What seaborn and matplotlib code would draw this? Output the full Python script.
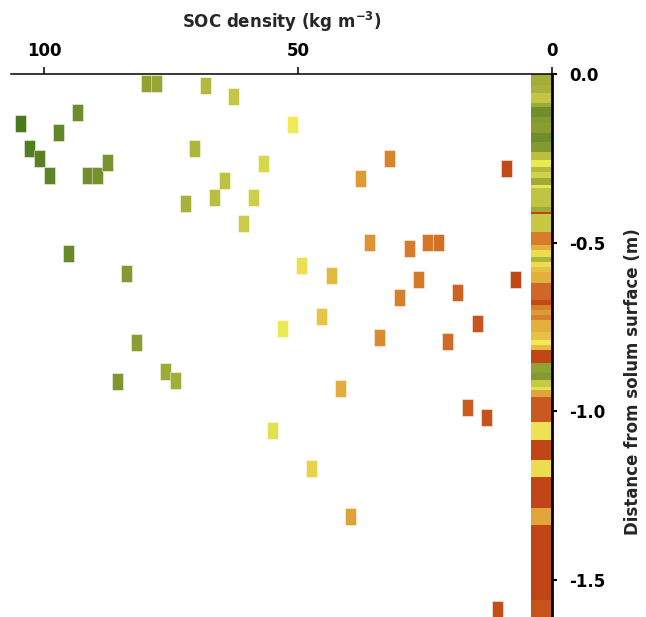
import numpy as np
import pandas as pd
import matplotlib
matplotlib.use("Agg")
import matplotlib.pyplot as plt
from matplotlib.colors import LinearSegmentedColormap
from matplotlib.path import Path
import seaborn as sns

sns.set_style("white")
plt.rcParams["font.family"] = ["DejaVu Sans"]
plt.rcParams["font.weight"] = "bold"
plt.rcParams["axes.unicode_minus"] = False
plt.rcParams["mathtext.fontset"] = "dejavusans"
plt.rcParams["mathtext.default"] = "bf"

# ---- Data: SOC density (kg m-3) of individual samples and their depth (m, negative = below surface)
soc = [79.9, 77.9, 68.3, 62.7, 93.4, 104.8, 97.2, 51.2, 70.4, 102.9,
       101.0, 99.1, 91.5, 89.5, 87.6, 56.9, 64.6, 66.5, 58.8, 72.3,
       60.8, 95.3, 83.8, 49.3, 43.5, 45.4, 53.1, 81.9, 76.1, 74.1,
       85.6, 32.0, 37.8, 9.0, 35.9, 28.1, 24.5, 22.4, 26.3, 7.1,
       18.6, 30.1, 14.7, 33.9, 20.5, 41.6, 16.6, 12.9, 55.0, 47.3,
       39.7, 10.8]
depth = [-0.028, -0.028, -0.033, -0.068, -0.113, -0.147, -0.174, -0.151, -0.221, -0.221,
         -0.251, -0.300, -0.300, -0.300, -0.261, -0.266, -0.315, -0.365, -0.365, -0.384,
         -0.443, -0.533, -0.592, -0.567, -0.597, -0.719, -0.754, -0.796, -0.882, -0.907,
         -0.912, -0.251, -0.310, -0.281, -0.498, -0.516, -0.498, -0.498, -0.608, -0.608,
         -0.646, -0.661, -0.740, -0.780, -0.794, -0.933, -0.987, -1.017, -1.056, -1.170,
         -1.312, -1.586]

# ---- Data: continuous profile strip (layer boundaries in m depth and SOC density of each layer)
layer_top = [0.000, 0.033, 0.056, 0.086, 0.098, 0.127, 0.145, 0.175, 0.202, 0.231,
             0.255, 0.276, 0.290, 0.308, 0.329, 0.338, 0.394, 0.409, 0.415, 0.468,
             0.507, 0.522, 0.542, 0.557, 0.572, 0.587, 0.619, 0.670, 0.685, 0.699,
             0.714, 0.729, 0.765, 0.788, 0.803, 0.818, 0.857, 0.886, 0.907, 0.928,
             0.937, 0.957, 1.031, 1.085, 1.144, 1.194, 1.286, 1.337, 1.559]
layer_bottom = layer_top[1:] + [1.65]
layer_soc = [74, 72, 63, 76, 92, 84, 82, 93, 84, 66,
             53, 68, 58, 75, 54, 64, 75, 5, 62, 28,
             42, 49, 70, 49, 45, 42, 20, 9, 30, 38,
             30, 42, 45, 51, 44, 7, 80, 84, 62, 55,
             40, 16, 50, 7, 49, 7, 40, 6, 13]

x_ticks = [100, 50, 0]
y_ticks = [0.0, -0.5, -1.0, -1.5]
y_ticklabels = ["0.0", "-0.5", "-1.0", "-1.5"]

# ---- Colour scale (high SOC = green, mid = yellow, low = red)
vmax = 106.0
nodes = [(0, "#b83c12"), (8, "#c24818"), (15, "#c8561e"), (22, "#d27026"),
         (32, "#d8842c"), (40, "#e0a438"), (46, "#e8c846"), (52, "#f0f058"),
         (58, "#d2d248"), (66, "#bcbe40"), (76, "#9caa36"), (86, "#7e962e"),
         (95, "#6a8a2a"), (106, "#4a781c")]
cmap = LinearSegmentedColormap.from_list("soc", [(v / vmax, c) for v, c in nodes])

df = pd.DataFrame({"soc": soc, "depth": depth})

fig = plt.figure(figsize=(6.46, 6.17), dpi=100)
ax = fig.add_axes([11 / 646, 0.0, 541 / 646, 543 / 617])

# profile strip
lt = np.array(layer_top)
lb = np.array(layer_bottom)
ax.barh(y=-(lt + lb) / 2, width=4.15, height=lb - lt, left=0,
        color=[cmap(v / vmax) for v in layer_soc], edgecolor="none", zorder=1)

# sample markers (tall rectangles)
w = 0.3235
rect = Path([(-w, -0.5), (w, -0.5), (w, 0.5), (-w, 0.5), (-w, -0.5)],
            [Path.MOVETO, Path.LINETO, Path.LINETO, Path.LINETO, Path.CLOSEPOLY])
sns.scatterplot(data=df, x="soc", y="depth", hue="soc", palette=cmap,
                hue_norm=(0, vmax), marker=rect, s=150, linewidth=0.6,
                edgecolor=(1, 1, 1, 0.55), legend=False, ax=ax, zorder=3)

ax.set_xlim(106.6, 0)
ax.set_ylim(-1.609, 0)

for s in ["left", "bottom"]:
    ax.spines[s].set_visible(False)
ax.spines["top"].set_linewidth(1.1)
ax.spines["right"].set_linewidth(2.0)
ax.spines["top"].set_color("black")
ax.spines["right"].set_color("black")
ax.spines["top"].set_zorder(5)
ax.spines["right"].set_zorder(5)

ax.xaxis.set_ticks_position("top")
ax.xaxis.set_label_position("top")
ax.yaxis.set_ticks_position("right")
ax.yaxis.set_label_position("right")

ax.set_xticks(x_ticks)
ax.set_xticklabels([str(t) for t in x_ticks])
ax.set_yticks(y_ticks)
ax.set_yticklabels(y_ticklabels)
ax.tick_params(axis="x", direction="out", length=5, width=1.1, pad=5,
               labelsize=12, colors="black")
ax.tick_params(axis="y", direction="out", length=3.5, width=1.5, pad=9,
               labelsize=12, colors="black")
for lab in ax.get_xticklabels() + ax.get_yticklabels():
    lab.set_fontweight("bold")

ax.set_xlabel("SOC density (kg m$^{-3}$)", fontsize=12,
              fontweight="bold", labelpad=10)
ax.set_ylabel("Distance from solum surface (m)", fontsize=12,
              fontweight="bold", rotation=90)
ax.yaxis.set_label_coords(1.134, 0.434)

fig.savefig("out.png", dpi=100)
